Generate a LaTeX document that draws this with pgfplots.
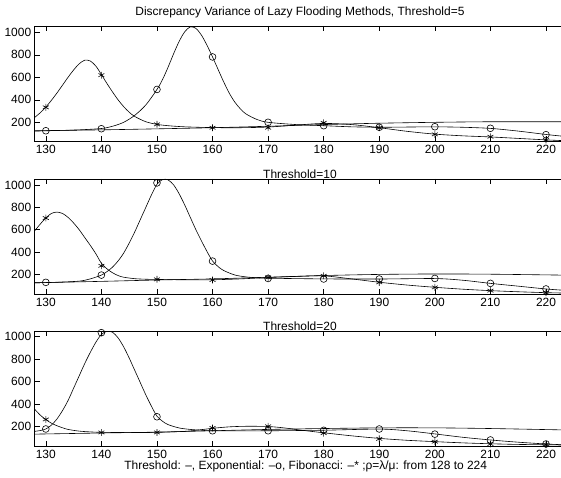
\documentclass[border=0pt]{standalone}
\usepackage{fontspec}
\setmainfont{Liberation Sans}
\usepackage{pgfplots}
\pgfplotsset{compat=1.18}
\pgfplotsset{panel/.style={
  scale only axis, width=526.3bp, height=115bp,
  xmin=128, xmax=222.7,
  xtick={130,140,...,220}, ytick={200,400,...,1000},
  xtick pos=both, ytick pos=left,
  tick align=inside, major tick length=5bp,
  tick style={black, line width=0.6pt},
  axis line style={black, line width=0.8pt},
  scaled ticks=false,
  /pgf/number format/1000 sep={},
  /pgf/number format/assume math mode=true,
  tick label style={font=\fontsize{12}{14}\selectfont},
  xticklabel style={yshift=-0.5bp},
  title style={font=\fontsize{12}{14}\selectfont, anchor=base, inner sep=0pt},
  every axis plot/.append style={black, line width=0.6pt},
  clip=true,
},
curve/.style={smooth, no marks, line width=0.6pt},
circ/.style={only marks, mark=o, mark size=3.4bp, mark options={line width=0.6pt}},
star/.style={only marks, mark=asterisk, mark size=3.4bp, mark options={line width=0.6pt}},
}
\begin{document}
\begin{tikzpicture}
\path[use as bounding box] (0,0) rectangle (561bp,478bp);
% ---------------- Panel 1 ----------------
\begin{axis}[panel, at={(34.7bp,337bp)}, anchor=south west, ymin=34, ymax=1056,
  title={Discrepancy Variance of Lazy Flooding Methods, Threshold=5},
  title style={at={(0.504,1)}, yshift=4.2bp}]
\addplot[curve] coordinates {(128,125) (140,133) (150,142) (160,152) (170,165) (180,180) (190,192) (200,200) (210,205) (222.7,205)};
\addplot[curve] coordinates {(128,122) (132,127) (136,133) (140,145) (142,165) (144,200) (146,262) (148,355) (150,492) (151,580) (152,690) (153,810) (154,920) (155,1005) (156,1048) (157,1035) (158,975) (159,885) (160,781) (161,670) (162,560) (163,460) (164,380) (165,320) (166,275) (168,225) (170,200) (175,180) (180,170) (185,160) (190,156) (195,158) (200,160) (205,156) (210,146) (215,122) (220,92) (222.7,78)};
\addplot[curve] coordinates {(128,244) (129,285) (130,335) (131,395) (132,460) (133,530) (134,600) (135,665) (136,720) (137,752) (138,745) (139,700) (140,625) (141,545) (142,470) (143,400) (144,340) (145,290) (146,252) (148,205) (150,182) (152,170) (155,160) (160,153) (165,152) (170,158) (175,175) (180,190) (185,180) (190,152) (195,120) (200,95) (205,80) (210,70) (215,57) (220,44) (222.7,38)};
\addplot[circ] coordinates {(130,125) (140,143) (150,492) (160,781) (170,200) (180,170) (190,156) (200,161) (210,147) (220,90)};
\addplot[star] coordinates {(130,333) (140,619) (150,182) (160,152) (170,152) (180,196) (190,152) (200,93) (210,72) (220,43)};
\end{axis}
% ---------------- Panel 2 ----------------
\begin{axis}[panel, at={(34.7bp,184bp)}, anchor=south west, ymin=25, ymax=1053,
  title={Threshold=10},
  title style={at={(0.504,1)}, yshift=-5.4bp}]
\addplot[curve] coordinates {(128,125) (140,138) (150,150) (160,160) (170,175) (180,190) (190,200) (200,204) (210,202) (222.7,194)};
\addplot[curve] coordinates {(128,125) (132,130) (136,140) (138,160) (140,194) (141,225) (142,265) (143,320) (144,390) (145,480) (146,580) (147,690) (148,800) (149,910) (150,1005) (151,1048) (152,1045) (153,1000) (154,920) (155,820) (156,710) (157,600) (158,500) (159,405) (160,320) (161,270) (162,235) (164,195) (166,178) (168,170) (170,166) (180,160) (190,159) (200,163) (205,148) (210,120) (215,95) (220,70) (222.7,60)};
\addplot[curve] coordinates {(128,590) (129,650) (130,705) (131,745) (132,757) (133,745) (134,710) (135,660) (136,600) (137,530) (138,460) (139,385) (140,300) (141,250) (142,215) (143,190) (144,175) (146,162) (148,157) (150,155) (155,152) (160,152) (165,160) (170,172) (175,182) (180,187) (185,160) (190,130) (195,105) (200,85) (205,68) (210,55) (215,45) (220,37) (222.7,34)};
\addplot[circ] coordinates {(130,129) (140,194) (150,1018) (160,319) (170,164) (180,159) (190,159) (200,164) (210,120) (220,70)};
\addplot[star] coordinates {(130,704) (140,277) (150,156) (160,150) (170,173) (180,188) (190,129) (200,84) (210,55) (220,37)};
\end{axis}
% ---------------- Panel 3 ----------------
\begin{axis}[panel, at={(34.7bp,32bp)}, anchor=south west, ymin=24, ymax=1051,
  title={Threshold=20},
  title style={at={(0.504,1)}, yshift=-5.8bp},
  xlabel={Threshold: –, Exponential: –o, Fibonacci: –* ;ρ=λ/μ: from 128 to 224},
  xlabel style={at={(0.515,0)}, anchor=base, yshift=-23.5bp, inner sep=0pt, font=\fontsize{12}{14}\selectfont}]
\addplot[curve] coordinates {(128,130) (140,140) (150,148) (160,160) (170,172) (180,180) (190,186) (200,186) (210,180) (222.7,168)};
\addplot[curve] coordinates {(128,155) (129,162) (130,176) (131,210) (132,265) (133,340) (134,430) (135,540) (136,650) (137,760) (138,860) (139,950) (140,1020) (141,1048) (142,1040) (143,990) (144,910) (145,810) (146,700) (147,590) (148,480) (149,380) (150,290) (151,245) (152,215) (154,185) (156,172) (158,165) (160,160) (170,160) (180,165) (190,175) (195,160) (200,132) (205,102) (210,78) (215,58) (220,42) (222.7,36)};
\addplot[curve] coordinates {(128,352) (129,300) (130,260) (131,228) (132,205) (133,187) (134,172) (136,157) (138,150) (140,146) (145,144) (150,146) (155,155) (158,170) (160,182) (163,195) (166,200) (170,198) (173,185) (176,165) (180,142) (185,115) (190,92) (195,75) (200,63) (205,52) (210,44) (215,38) (220,35) (222.7,33)};
\addplot[circ] coordinates {(130,176) (140,1036) (150,285) (160,160) (170,160) (180,164) (190,176) (200,130) (210,78) (220,42)};
\addplot[star] coordinates {(130,261) (140,145) (150,145) (160,185) (170,200) (180,139) (190,88) (200,63) (210,42) (220,36)};
\end{axis}
\end{tikzpicture}
\end{document}
